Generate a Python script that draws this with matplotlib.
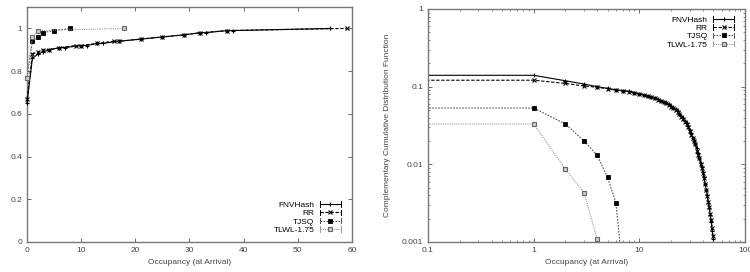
"""CDF and CCDF of occupancy at arrival for four dispatch policies."""

import matplotlib
matplotlib.use("Agg")
import matplotlib.pyplot as plt
from matplotlib.legend_handler import HandlerLine2D
from matplotlib.lines import Line2D

plt.rcParams["font.family"] = ["Liberation Sans", "DejaVu Sans"]
plt.rcParams["font.size"] = 6

labels = ["FNVHash", "RR", "TJSQ", "TLWL-1.75"]

# left panel: cumulative distribution
fnv_x = [0, 1, 2, 3, 4, 6, 7, 10, 11, 13, 14, 17, 21, 25, 29, 32, 33, 37, 38, 56]
fnv_y = [0.65, 0.86, 0.88, 0.89, 0.90, 0.91, 0.91, 0.92, 0.92, 0.93, 0.93, 0.94,
         0.95, 0.96, 0.97, 0.98, 0.98, 0.99, 0.99, 1.0]
rr_x = [0, 1, 2, 3, 4, 6, 9, 10, 13, 16, 17, 21, 25, 29, 32, 37, 59]
rr_y = [0.67, 0.88, 0.89, 0.90, 0.90, 0.91, 0.92, 0.92, 0.93, 0.94, 0.94, 0.95,
        0.96, 0.97, 0.98, 0.99, 1.0]
tjsq_x = [0, 1, 2, 3, 5, 8]
tjsq_y = [0.77, 0.94, 0.96, 0.98, 0.99, 1.0]
tlwl_x = [0, 1, 2, 18]
tlwl_y = [0.77, 0.96, 0.99, 1.0]

# right panel: complementary cdf (first point only carries the flat line to the edge)
fnv_cx = [0.05] + list(range(1, 51))
fnv_cy = [0.14, 0.14, 0.119, 0.108, 0.100, 0.095, 0.091, 0.089, 0.087, 0.084, 0.081,
          0.079, 0.076, 0.074, 0.071, 0.069, 0.066, 0.064, 0.062, 0.059, 0.056,
          0.053, 0.051, 0.048, 0.045, 0.042, 0.039, 0.036, 0.034, 0.031, 0.028,
          0.025, 0.022, 0.020, 0.018, 0.016, 0.014, 0.012, 0.0105, 0.0092, 0.0080,
          0.0068, 0.0056, 0.0047, 0.0040, 0.0032, 0.0027, 0.0022, 0.0018, 0.0014, 0.0011]
rr_cx = [0.05] + list(range(1, 51))
rr_cy = [0.121, 0.121, 0.110, 0.102, 0.098, 0.094, 0.090, 0.088, 0.086, 0.083, 0.080,
         0.078, 0.075, 0.073, 0.071, 0.068, 0.066, 0.063, 0.061, 0.058, 0.055,
         0.053, 0.050, 0.047, 0.044, 0.041, 0.038, 0.035, 0.033, 0.030, 0.027,
         0.024, 0.022, 0.020, 0.018, 0.015, 0.013, 0.012, 0.0102, 0.0090, 0.0078,
         0.0066, 0.0055, 0.0047, 0.0039, 0.0033, 0.0028, 0.0023, 0.0019, 0.0015, 0.0012]
tjsq_cx = [0.05, 1, 2, 3, 4, 5, 6, 7]
tjsq_cy = [0.053, 0.053, 0.033, 0.020, 0.013, 0.0068, 0.0032, 0.0004]
tlwl_cx = [0.05, 1, 2, 3, 4]
tlwl_cy = [0.033, 0.033, 0.0087, 0.0043, 0.00108]

styles = [
    dict(color="black", ls="-", marker="+", ms=3.5, mew=0.8, mfc="black"),
    dict(color="black", ls=(0, (3, 1.5)), marker="x", ms=3, mew=0.8, mfc="black"),
    dict(color="#555555", ls=(0, (1.5, 1.2)), marker="s", ms=2.6, mew=0.6,
         mfc="black", mec="black"),
    dict(color="#999999", ls=(0, (1, 1)), marker="s", ms=3.4, mew=0.8,
         mfc="#cccccc", mec="#666666"),
]


class CapHandler(HandlerLine2D):
    """gnuplot-like key sample: line with small vertical caps at both ends."""

    def create_artists(self, legend, orig_handle, xdescent, ydescent, width, height,
                       fontsize, trans):
        artists = super().create_artists(legend, orig_handle, xdescent, ydescent,
                                         width, height, fontsize, trans)
        ymid = height / 2 - ydescent
        for xe in (-xdescent, width - xdescent):
            cap = Line2D([xe, xe], [ymid - 2, ymid + 2], color=orig_handle.get_color(),
                         lw=0.7, transform=trans)
            artists.append(cap)
        return artists


def style_axes(ax):
    for sp in ax.spines.values():
        sp.set_color("#777777")
        sp.set_linewidth(1.0)
    ax.tick_params(which="both", direction="in", top=True, right=True,
                   colors="#555555", labelcolor="#444444", labelsize=6)
    ax.tick_params(which="major", length=3, width=0.6)
    ax.tick_params(which="minor", length=1.6, width=0.5)


fig = plt.figure(figsize=(7.5, 2.72), dpi=100)
ax1 = fig.add_axes([0.036, 0.1103, 0.4333, 0.8637])
ax2 = fig.add_axes([0.5707, 0.1103, 0.4226, 0.8567])

cdf = [(fnv_x, fnv_y), (rr_x, rr_y), (tjsq_x, tjsq_y), (tlwl_x, tlwl_y)]
for (xs, ys), st, lab in zip(cdf, styles, labels):
    ax1.plot(xs, ys, lw=0.8, label=lab, clip_on=False, zorder=3, **st)
ax1.set_xlim(0, 60)
ax1.set_ylim(0, 1.1)
ax1.set_xticks(range(0, 61, 10))
ax1.set_yticks([0, 0.2, 0.4, 0.6, 0.8, 1.0])
ax1.set_yticklabels(["0", "0.2", "0.4", "0.6", "0.8", "1"])
ax1.set_xlabel("Occupancy (at Arrival)", fontsize=6, color="#444444", labelpad=4)
style_axes(ax1)
h1, l1 = ax1.get_legend_handles_labels()
ax1.legend(h1, l1, loc="lower right", bbox_to_anchor=(0.985, 0.01), frameon=False,
           markerfirst=False, handlelength=2.6, handletextpad=0.6, labelspacing=0.05,
           borderpad=0.2, fontsize=6, handler_map={Line2D: CapHandler()})

ccdf = [(fnv_cx, fnv_cy), (rr_cx, rr_cy), (tjsq_cx, tjsq_cy), (tlwl_cx, tlwl_cy)]
for (xs, ys), st, lab in zip(ccdf, styles, labels):
    ax2.plot(xs, ys, lw=0.8, label=lab, markevery=slice(1, None), **st)
ax2.set_xscale("log")
ax2.set_yscale("log")
ax2.set_xlim(0.1, 100)
ax2.set_ylim(0.001, 1)
ax2.set_xticks([0.1, 1, 10, 100])
ax2.set_xticklabels(["0.1", "1", "10", "100"])
ax2.set_yticks([0.001, 0.01, 0.1, 1])
ax2.set_yticklabels(["0.001", "0.01", "0.1", "1"])
ax2.set_xlabel("Occupancy (at Arrival)", fontsize=6, color="#444444", labelpad=4)
ax2.set_ylabel("Complementary Cumulative Distribution Function", fontsize=6,
               color="#444444", labelpad=8)
style_axes(ax2)
h2, l2 = ax2.get_legend_handles_labels()
ax2.legend(h2, l2, loc="upper right", bbox_to_anchor=(0.985, 0.995), frameon=False,
           markerfirst=False, handlelength=2.6, handletextpad=0.6, labelspacing=0.05,
           borderpad=0.2, fontsize=6, handler_map={Line2D: CapHandler()})

fig.savefig("out.png", dpi=100)
